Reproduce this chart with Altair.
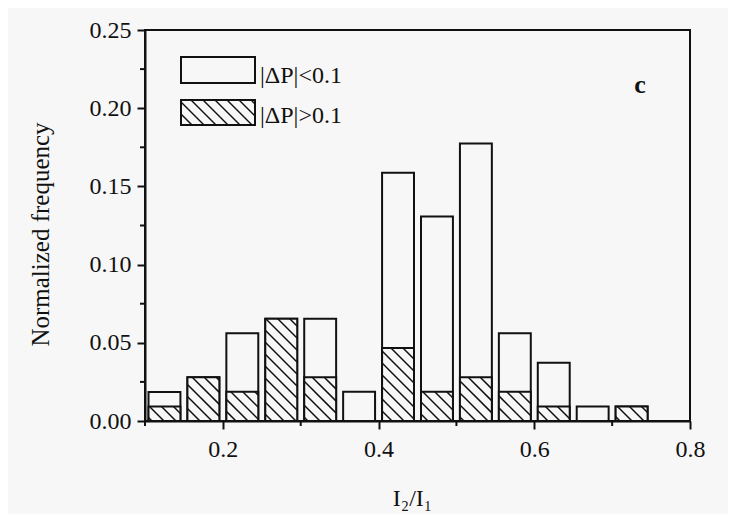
import math
import altair as alt
import pandas as pd

# ---------------- data ----------------
bin_centers = [0.125, 0.175, 0.225, 0.275, 0.325, 0.375, 0.425,
               0.475, 0.525, 0.575, 0.625, 0.675, 0.725]
# |ΔP|>0.1 (hatched, bottom part)
freq_large = [0.0093, 0.0280, 0.0187, 0.0654, 0.0280, 0.0, 0.0467,
              0.0187, 0.0280, 0.0187, 0.0093, 0.0, 0.0093]
# |ΔP|<0.1 (open, stacked on top)
freq_small = [0.0093, 0.0, 0.0374, 0.0, 0.0374, 0.0187, 0.1121,
              0.1121, 0.1495, 0.0374, 0.0280, 0.0093, 0.0]
x_ticks = [0.2, 0.4, 0.6, 0.8]
x_minor = [0.1, 0.3, 0.5, 0.7]
y_ticks = [0.0, 0.05, 0.10, 0.15, 0.20, 0.25]
y_minor = [0.025, 0.075, 0.125, 0.175, 0.225]
legend_labels = ["|ΔP|<0.1", "|ΔP|>0.1"]
panel_label = "c"

# ---------------- layout / style ----------------
W, H = 545, 391
XD = (0.1, 0.8)
YD = (0.0, 0.25)
BAR_HALF = 0.0205
STEP = 12.0
FONT = "Liberation Serif"
BG = "#f7f7f7"
INK = "#111111"
kx = W / (XD[1] - XD[0])
ky = H / (YD[1] - YD[0])


def px_to_data(X, Y):
    return XD[0] + X / kx, (H - Y) / ky


def hatch_px(X0, X1, Ytop, Ybot):
    segs = []
    cmin, cmax = X0 - Ybot, X1 - Ytop
    k = math.ceil(cmin / STEP)
    while k * STEP < cmax:
        c = k * STEP
        xs = max(X0, Ytop + c)
        xe = min(X1, Ybot + c)
        if xe - xs > 0.5:
            a = px_to_data(xs, xs - c)
            b = px_to_data(xe, xe - c)
            segs.append({"x": a[0], "y": a[1], "x2": b[0], "y2": b[1]})
        k += 1
    return segs


bars = pd.DataFrame({
    "c": bin_centers,
    "gt": freq_large,
    "lt": freq_small,
})
bars["xa"] = bars["c"] - BAR_HALF
bars["xb"] = bars["c"] + BAR_HALF
bars["zero"] = 0.0
bars["total"] = bars["gt"] + bars["lt"]
hat = bars[bars["gt"] > 0]

segs = []
for _, r in hat.iterrows():
    X0 = (r["xa"] - XD[0]) * kx
    X1 = (r["xb"] - XD[0]) * kx
    segs += hatch_px(X0, X1, H - r["gt"] * ky, H)

# legend boxes (pixel layout converted to data space)
LX0, LX1 = 36, 110
L1 = (27, 53)
L2 = (70, 95)
lg = []
for (t, b) in (L1, L2):
    a = px_to_data(LX0, b)
    c2 = px_to_data(LX1, t)
    lg.append({"x": a[0], "y": a[1], "x2": c2[0], "y2": c2[1]})
leg = pd.DataFrame(lg)
segs += hatch_px(LX0, LX1, L2[0], L2[1])
hatch = pd.DataFrame(segs)

xscale = alt.Scale(domain=list(XD), nice=False, zero=False)
yscale = alt.Scale(domain=list(YD), nice=False, zero=False)

xaxis = alt.Axis(values=x_ticks, format=".1f", title="I₂/I₁", grid=False,
                 tickSize=8, tickWidth=2, tickColor=INK, domainWidth=2,
                 domainColor=INK, labelFont=FONT, labelFontSize=24,
                 labelColor=INK, labelPadding=8, labelFlush=False,
                 titleFont=FONT, titleFontSize=24, titleFontWeight="normal",
                 titleColor=INK, titleX=267, titleY=84,
                 titleBaseline="alphabetic", titleAlign="center")
yaxis = alt.Axis(values=y_ticks, format=".2f", title="Normalized frequency",
                 grid=False, tickSize=8, tickWidth=2, tickColor=INK,
                 domainWidth=2, domainColor=INK, labelFont=FONT,
                 labelFontSize=24, labelColor=INK, labelPadding=6,
                 labelFlush=False, titleFont=FONT, titleFontSize=25,
                 titleFontWeight="normal", titleColor=INK, titleAngle=270,
                 titleX=-105, titleY=204, titleBaseline="middle",
                 titleAlign="center")

base = alt.Chart(bars)

open_bars = base.mark_rect(fill=BG, stroke=INK, strokeWidth=2).encode(
    x=alt.X("xa:Q", scale=xscale, axis=xaxis),
    x2="xb:Q",
    y=alt.Y("zero:Q", scale=yscale, axis=yaxis),
    y2="total:Q",
)
hat_bars = alt.Chart(hat).mark_rect(fill=BG, stroke=INK, strokeWidth=2).encode(
    x="xa:Q", x2="xb:Q", y="zero:Q", y2="gt:Q")
leg_boxes = alt.Chart(leg).mark_rect(fill=BG, stroke=INK, strokeWidth=2).encode(
    x="x:Q", x2="x2:Q", y="y:Q", y2="y2:Q")
hatch_lines = alt.Chart(hatch).mark_rule(color=INK, strokeWidth=1.5).encode(
    x="x:Q", x2="x2:Q", y="y:Q", y2="y2:Q")

leg_text = alt.Chart(pd.DataFrame({
    "t": legend_labels, "py": [53, 93]})).mark_text(
    font=FONT, fontSize=24, color=INK, align="left", baseline="alphabetic"
).encode(x=alt.value(115), y=alt.Y("py:Q", scale=None), text="t:N")

label_c = alt.Chart(pd.DataFrame({"t": [panel_label]})).mark_text(
    font=FONT, fontSize=26, fontWeight="bold", color=INK, align="center",
    baseline="alphabetic"
).encode(x=alt.value(495), y=alt.value(63), text="t:N")

xminor = alt.Chart(pd.DataFrame({"v": x_minor})).mark_rule(
    color=INK, strokeWidth=2, clip=False).encode(
    x="v:Q", y=alt.value(H), y2=alt.value(H + 5))
yminor = alt.Chart(pd.DataFrame({"v": y_minor})).mark_rule(
    color=INK, strokeWidth=2, clip=False).encode(
    y="v:Q", x=alt.value(0), x2=alt.value(-5))

chart = alt.layer(
    open_bars, hat_bars, leg_boxes, hatch_lines, leg_text, label_c,
    xminor, yminor
).properties(
    width=W, height=H,
    padding={"left": 137, "top": 22, "right": 38, "bottom": 93},
    autosize=alt.AutoSizeParams(type="none"),
    background=BG,
).configure_view(stroke=INK, strokeWidth=2)

chart.save("out.html", embed_options={"renderer": "svg", "actions": False})
